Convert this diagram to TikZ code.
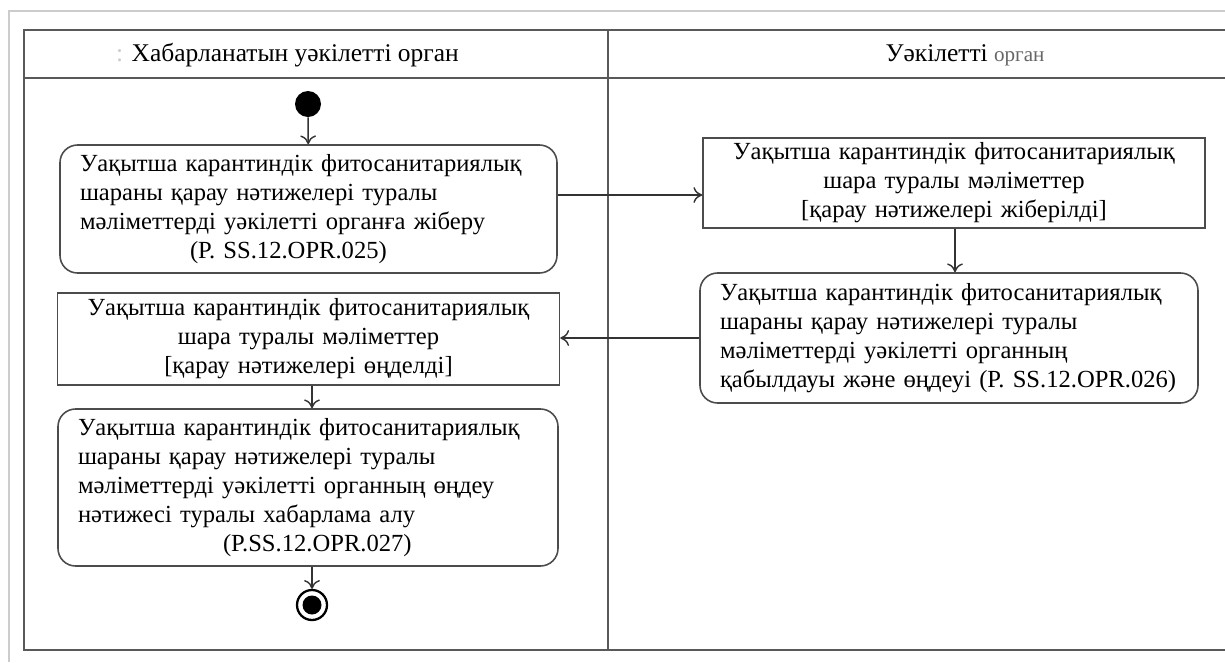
\documentclass[tikz,border=0pt]{standalone}
\usepackage{fontspec}
\setmainfont{Liberation Serif}
\usetikzlibrary{calc,arrows.meta}
\tikzset{tight/.style={inner sep=2pt},
  action/.style={draw=black!70, line width=0.9pt, rectangle, rounded corners=10pt,
    align=left, inner xsep=0.4cm, font=\fontsize{14}{16.5}\selectfont},
  objectbox/.style={draw=black!70, line width=0.9pt, rectangle,
    align=center, font=\fontsize{14}{16.5}\selectfont},
  flow/.style={-{To[length=5pt, width=9pt]}, draw=black!80, line width=0.8pt}}

\begin{document}
\begin{tikzpicture}[style=tight]
          \useasboundingbox (0, 0) rectangle (24.5, -13.24);
          % swimlanes
          \draw[gray!40, line width=1pt] (0.18, -13.24) -- (0.18, -0.22) -- (24.5, -0.22);
          \draw[black!65, line width=1.2pt] (24.5, -0.6) -- (0.48, -0.6) -- (0.48, -13.0) -- (24.5, -13.0);
          \draw[black!65, line width=1.2pt] (0.48, -1.56) -- (24.5, -1.56);
          \draw[black!65, line width=1.2pt] (12.16, -0.6) -- (12.16, -13.0);
          \node at (5.75, -1.1) [font=\fontsize{14.5}{17}\selectfont] (lane1)
            {\textcolor{gray!40}{:} Хабарланатын уәкілетті орган};
          \node at (19.3, -1.1) [font=\fontsize{14.5}{17}\selectfont] (lane2)
            {Уәкілетті {\fontsize{12}{14}\selectfont\textcolor{black!60}{орган}}};

          \node at (6.16, -2.08) [circle, fill=black, minimum size=0.52cm, inner sep=0pt] (start) {};
          \node at (6.17, -4.18) [action, text width=9.14cm, minimum height=2.56cm] (send)
            {Уақытша карантиндік фитосанитариялық\\
             шараны қарау нәтижелері туралы\\
             мәліметтерді уәкілетті органға жіберу\\
             \hspace*{2.2cm}(P. SS.12.OPR.025)};
          \node at (19.08, -3.66) [objectbox, text width=9.9cm, minimum height=1.8cm] (sent)
            {Уақытша карантиндік фитосанитариялық\\
             шара туралы мәліметтер\\
             {[}қарау нәтижелері жіберілді{]}};
          \node at (18.98, -6.76) [action, text width=9.16cm, minimum height=2.6cm] (accept)
            {Уақытша карантиндік фитосанитариялық\\
             шараны қарау нәтижелері туралы\\
             мәліметтерді уәкілетті органның\\
             қабылдауы және өңдеуі (P. SS.12.OPR.026)};
          \node at (6.17, -6.78) [objectbox, text width=9.9cm, minimum height=1.84cm] (done)
            {Уақытша карантиндік фитосанитариялық\\
             шара туралы мәліметтер\\
             {[}қарау нәтижелері өңделді{]}};
          \node at (6.16, -9.75) [action, text width=9.2cm, minimum height=3.14cm] (notice)
            {Уақытша карантиндік фитосанитариялық\\
             шараны қарау нәтижелері туралы\\
             мәліметтерді уәкілетті органның өңдеу\\
             нәтижесі туралы хабарлама алу\\
             \hspace*{2.9cm}(P.SS.12.OPR.027)};
          \node at (6.24, -12.1) [circle, draw=black, line width=1.3pt, minimum size=0.6cm, inner sep=0pt] (finish) {};
          \node at (finish) [circle, fill=black, minimum size=0.38cm, inner sep=0pt] (finishdot) {};

          \coordinate (sendout) at ($ (send.east) + (0, 0.28) $);
          \draw[flow] (start) to (send);
          \draw[flow] (sendout) to (sendout -| sent.west);
          \draw[flow] (sent.south -| 19.1, 0) to (accept.north -| 19.1, 0);
          \draw[flow] (accept.west) to (accept.west -| done.east);
          \draw[flow] (done.south -| 6.24, 0) to (notice.north -| 6.24, 0);
          \draw[flow] (notice.south -| 6.24, 0) to (finish);
        \end{tikzpicture}
\end{document}
